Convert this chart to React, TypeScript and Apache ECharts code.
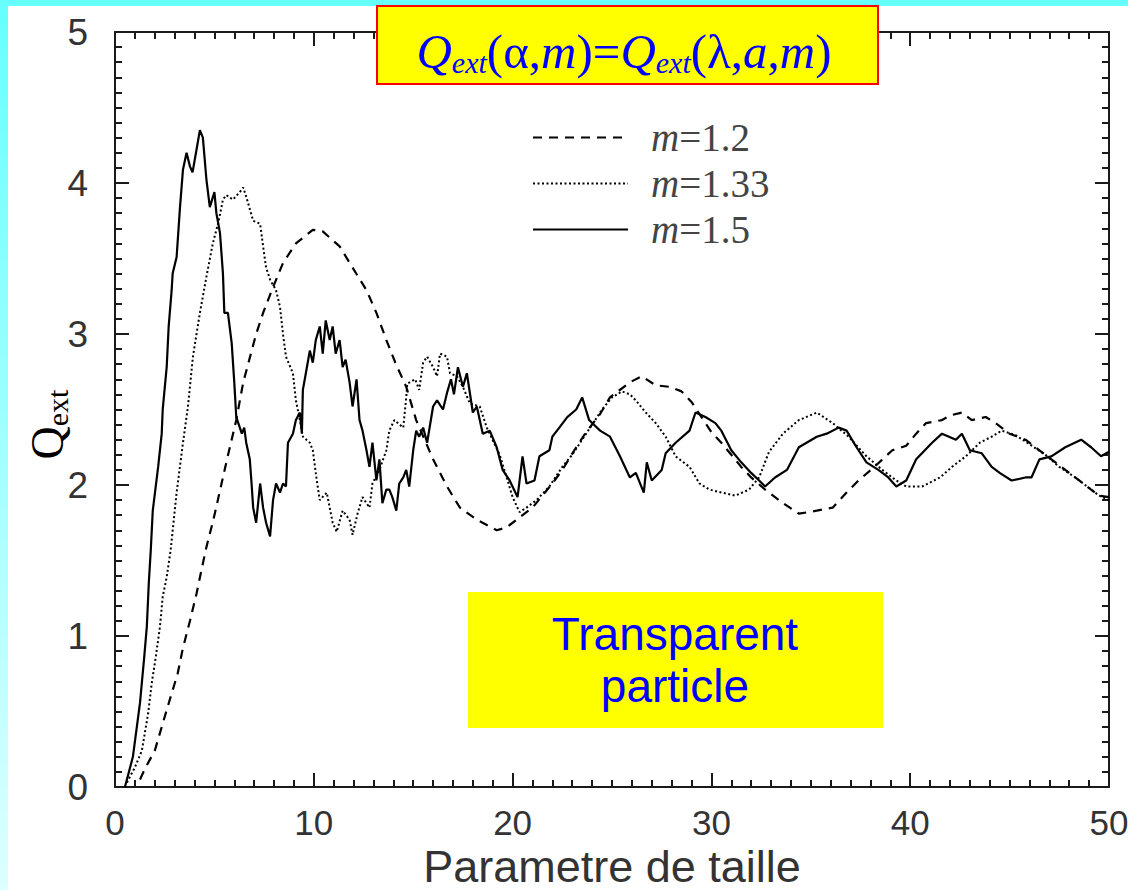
import React, { useEffect, useRef } from "react";
import * as echarts from "echarts";

const seriesNames = ["m=1.2", "m=1.33", "m=1.5"];

const m12: [number, number][] = [
  [1.26, 0.05], [1.5, 0.12], [2.0, 0.24], [2.4, 0.42], [2.76, 0.58], [3.15, 0.75], [3.4, 0.91],
  [3.77, 1.1], [4.1, 1.28], [4.37, 1.45], [4.6, 1.59], [4.95, 1.77], [5.6, 2.15], [6.1, 2.43],
  [6.45, 2.68], [7.1, 3.0], [7.45, 3.14], [7.95, 3.31], [8.45, 3.47], [9.1, 3.6], [9.95, 3.69],
  [10.45, 3.68], [11.3, 3.58], [11.95, 3.44], [12.65, 3.29], [13.15, 3.14], [13.65, 2.96],
  [14.1, 2.81], [14.65, 2.65], [15.15, 2.43], [16.0, 2.17], [16.7, 1.99], [17.35, 1.85],
  [18.2, 1.77], [19.2, 1.7], [19.7, 1.72], [20.5, 1.8], [21.0, 1.85], [21.5, 1.93], [22.0, 2.01],
  [22.5, 2.1], [23.2, 2.25], [23.7, 2.35], [24.4, 2.47], [24.9, 2.58], [25.3, 2.62], [25.9, 2.68],
  [26.5, 2.72], [27.2, 2.66], [27.9, 2.65], [28.5, 2.62], [29.0, 2.55], [29.5, 2.45], [30.0, 2.35],
  [30.5, 2.28], [31.0, 2.2], [31.5, 2.12], [32.0, 2.05], [32.7, 1.97], [33.2, 1.92], [33.6, 1.88],
  [34.4, 1.81], [35.3, 1.83], [36.1, 1.85], [36.8, 1.95], [37.4, 2.03], [38.2, 2.12], [39.1, 2.23],
  [39.8, 2.26], [40.3, 2.34], [40.8, 2.41], [41.6, 2.43], [42.0, 2.46], [42.6, 2.48], [43.1, 2.43],
  [43.8, 2.45], [44.3, 2.41], [45.0, 2.34], [45.8, 2.3], [46.5, 2.23], [47.1, 2.17], [47.8, 2.1],
  [48.5, 2.03], [49.1, 1.97], [49.5, 1.93], [50, 1.92],
];

const m133: [number, number][] = [
  [0.6, 0.03], [1.0, 0.13], [1.35, 0.24], [1.67, 0.49], [1.85, 0.69], [2.05, 0.86], [2.26, 1.06],
  [2.4, 1.26], [2.6, 1.39], [2.8, 1.57], [3.1, 1.95], [3.42, 2.28], [3.67, 2.52], [3.92, 2.85],
  [4.27, 3.14], [4.6, 3.38], [4.92, 3.6], [5.2, 3.74], [5.43, 3.89], [5.6, 3.92], [5.93, 3.89],
  [6.28, 3.94], [6.45, 3.97], [6.6, 3.91], [6.95, 3.75], [7.3, 3.73], [7.45, 3.58], [7.6, 3.44],
  [7.8, 3.36], [8.1, 3.29], [8.3, 3.18], [8.45, 3.0], [8.6, 2.85], [8.95, 2.74], [9.1, 2.56],
  [9.3, 2.43], [9.45, 2.32], [9.8, 2.28], [9.95, 2.23], [10.15, 2.03], [10.3, 1.9], [10.65, 1.95],
  [10.95, 1.75], [11.15, 1.69], [11.45, 1.83], [11.8, 1.77], [11.95, 1.67], [12.2, 1.81],
  [12.45, 1.92], [12.8, 1.85], [12.95, 2.01], [13.3, 2.1], [13.65, 2.23], [13.8, 2.36], [14.05, 2.43],
  [14.5, 2.38], [14.65, 2.58], [14.7, 2.67], [15.1, 2.7], [15.3, 2.63], [15.5, 2.81], [15.7, 2.85],
  [16.0, 2.78], [16.2, 2.72], [16.35, 2.87], [16.7, 2.85], [16.85, 2.74], [17.2, 2.72], [17.5, 2.65],
  [17.85, 2.54], [18.35, 2.52], [18.7, 2.38], [19.35, 2.2], [19.7, 2.05], [20.0, 1.92], [20.35, 1.82],
  [20.7, 1.85], [21.2, 1.9], [21.85, 1.99], [22.5, 2.12], [23.0, 2.2], [23.5, 2.3], [24.0, 2.4],
  [24.5, 2.5], [25.0, 2.58], [25.5, 2.62], [25.9, 2.6], [26.2, 2.56], [26.7, 2.48], [27.2, 2.41],
  [27.7, 2.32], [28.2, 2.19], [28.9, 2.12], [29.4, 2.01], [29.9, 1.97], [30.5, 1.95], [31.2, 1.93],
  [31.9, 1.97], [32.4, 2.05], [32.9, 2.22], [33.6, 2.34], [34.4, 2.43], [35.3, 2.48], [36.1, 2.41],
  [36.9, 2.32], [37.8, 2.19], [38.6, 2.1], [39.3, 2.03], [39.8, 1.99], [40.6, 1.99], [41.5, 2.05],
  [42.1, 2.12], [42.8, 2.19], [43.5, 2.28], [44.1, 2.32], [44.6, 2.36], [45.3, 2.33], [46.0, 2.27],
  [46.8, 2.2], [47.5, 2.12], [48.3, 2.05], [49.0, 1.98], [49.5, 1.93], [50, 1.9],
];

const m15: [number, number][] = [
  [0.5, 0], [0.9, 0.2], [1.1, 0.4], [1.26, 0.56], [1.35, 0.69], [1.47, 0.86], [1.6, 1.06], [1.7, 1.35],
  [1.8, 1.57], [1.9, 1.83], [2.17, 2.12], [2.35, 2.34], [2.4, 2.5], [2.6, 2.78], [2.7, 3.05],
  [2.85, 3.29], [2.9, 3.4], [3.1, 3.51], [3.27, 3.84], [3.42, 4.09], [3.6, 4.2], [3.77, 4.11],
  [3.9, 4.07], [4.1, 4.22], [4.27, 4.35], [4.42, 4.3], [4.6, 4.02], [4.77, 3.84], [5.0, 3.94],
  [5.1, 3.8], [5.28, 3.67], [5.43, 3.4], [5.5, 3.14], [5.68, 3.14], [5.87, 2.94], [6.0, 2.68],
  [6.1, 2.45], [6.38, 2.34], [6.5, 2.38], [6.6, 2.28], [6.78, 2.17], [6.87, 2.01], [6.95, 1.85],
  [7.1, 1.75], [7.3, 2.01], [7.45, 1.85], [7.6, 1.75], [7.8, 1.66], [7.95, 1.9], [8.1, 2.01],
  [8.3, 1.95], [8.45, 2.01], [8.6, 1.99], [8.7, 2.28], [8.95, 2.34], [9.1, 2.43], [9.3, 2.48],
  [9.4, 2.34], [9.45, 2.63], [9.6, 2.74], [9.8, 2.89], [9.95, 2.81], [10.1, 2.96], [10.3, 3.05],
  [10.45, 2.87], [10.6, 3.09], [10.8, 2.96], [10.95, 3.05], [11.1, 2.87], [11.3, 2.96], [11.45, 2.78],
  [11.6, 2.83], [11.8, 2.68], [11.95, 2.52], [12.15, 2.7], [12.3, 2.43], [12.45, 2.36], [12.65, 2.23],
  [12.8, 2.12], [12.95, 2.28], [13.15, 2.03], [13.3, 2.17], [13.45, 1.88], [13.65, 1.97], [13.8, 1.97],
  [13.95, 1.92], [14.15, 1.83], [14.3, 2.01], [14.5, 2.05], [14.65, 2.1], [14.8, 1.99], [15.0, 2.23],
  [15.15, 2.36], [15.3, 2.32], [15.5, 2.38], [15.7, 2.28], [16.0, 2.52], [16.2, 2.56], [16.5, 2.5],
  [16.7, 2.61], [16.9, 2.7], [17.05, 2.6], [17.25, 2.78], [17.5, 2.65], [17.7, 2.74], [18.0, 2.48],
  [18.2, 2.52], [18.5, 2.34], [18.85, 2.36], [19.2, 2.25], [19.5, 2.1], [19.85, 2.03], [20.25, 1.92],
  [20.5, 2.19], [20.7, 2.01], [21.1, 2.03], [21.35, 2.19], [21.85, 2.23], [22.0, 2.32], [22.35, 2.38],
  [22.75, 2.45], [23.2, 2.5], [23.5, 2.58], [23.85, 2.43], [24.4, 2.36], [24.9, 2.32], [25.4, 2.19],
  [25.9, 2.05], [26.2, 2.08], [26.6, 1.95], [26.75, 2.15], [27.0, 2.03], [27.5, 2.1], [27.7, 2.21],
  [28.2, 2.28], [28.9, 2.36], [29.2, 2.48], [29.7, 2.45], [30.2, 2.41], [30.5, 2.36], [31.0, 2.23],
  [31.5, 2.15], [32.0, 2.08], [32.4, 2.03], [32.7, 1.99], [33.2, 2.05], [33.8, 2.1], [34.4, 2.25],
  [35.3, 2.32], [35.8, 2.34], [36.4, 2.38], [36.8, 2.36], [37.3, 2.25], [37.8, 2.15], [38.4, 2.1],
  [38.9, 2.05], [39.3, 1.99], [39.8, 2.03], [40.3, 2.17], [41.1, 2.28], [41.6, 2.34], [42.3, 2.3],
  [42.6, 2.34], [43.0, 2.23], [43.6, 2.21], [44.1, 2.12], [44.5, 2.08], [45.1, 2.03], [45.8, 2.05],
  [46.1, 2.05], [46.5, 2.17], [47.1, 2.19], [47.8, 2.25], [48.6, 2.3], [49.1, 2.25], [49.6, 2.19],
  [50, 2.22],
];

const xRange = [0, 50];
const yRange = [0, 5];
const xAxisTitle = "Parametre de taille";
const noteLines = ["Transparent", "particle"];

const SERIF = '"Times New Roman", "Liberation Serif", serif';
const SANS = 'Arial, "Liberation Sans", sans-serif';
const AXIS_COLOR = "#1a1a1a";
const LABEL_COLOR = "#333";

export default function App() {
  const ref = useRef<HTMLDivElement>(null);

  useEffect(() => {
    if (!ref.current) return;
    const chart = echarts.init(ref.current, undefined, { renderer: "svg" });

    const tickCommon = {
      axisLine: { show: true, onZero: false, lineStyle: { color: AXIS_COLOR, width: 2 } },
      axisTick: { show: true, inside: true, length: 14, lineStyle: { color: AXIS_COLOR, width: 2 } },
      minorTick: { show: true, splitNumber: 10, length: 7, lineStyle: { color: AXIS_COLOR, width: 2 } },
      splitLine: { show: false },
      minorSplitLine: { show: false },
    };

    const lineSeries = [m12, m133, m15].map((d, i) => ({
      name: seriesNames[i],
      type: "line",
      data: d,
      symbol: "none",
      showSymbol: false,
      color: "#000",
      itemStyle: { color: "#000" },
      lineStyle:
        i === 0
          ? { color: "#000", width: 2.2, type: [9, 7] }
          : i === 1
          ? { color: "#000", width: 2, type: [2, 2.5] }
          : { color: "#000", width: 2.2, type: "solid" },
      z: 3,
    }));

    chart.setOption({
      animation: false,
      backgroundColor: "#ffffff",
      grid: { left: 115, right: 19, top: 32, bottom: 103, containLabel: false, outerBoundsMode: "none" },
      xAxis: [
        {
          type: "value",
          min: xRange[0],
          max: xRange[1],
          interval: 10,
          position: "bottom",
          ...tickCommon,
          axisLabel: { fontSize: 35, color: LABEL_COLOR, fontFamily: SANS, margin: 18 },
          name: xAxisTitle,
          nameLocation: "middle",
          nameGap: 56,
          nameMoveOverlap: false,
          nameTextStyle: { fontSize: 45, lineHeight: 46, color: LABEL_COLOR, fontFamily: SANS },
        },
        {
          type: "value",
          min: xRange[0],
          max: xRange[1],
          interval: 10,
          position: "top",
          ...tickCommon,
          axisLabel: { show: false },
        },
      ],
      yAxis: [
        {
          type: "value",
          min: yRange[0],
          max: yRange[1],
          interval: 1,
          position: "left",
          ...tickCommon,
          axisLabel: { fontSize: 37, color: LABEL_COLOR, fontFamily: SANS, margin: 27 },
          name: "{q|Q}{s|ext}",
          nameLocation: "middle",
          nameRotate: 90,
          nameGap: 43,
          nameMoveOverlap: false,
          nameTextStyle: {
            rich: {
              q: { fontFamily: SERIF, fontSize: 46, color: "#000" },
              s: { fontFamily: SERIF, fontSize: 30, color: "#000", padding: [20, 30, 0, 0] },
            },
          },
        },
        {
          type: "value",
          min: yRange[0],
          max: yRange[1],
          interval: 1,
          position: "right",
          ...tickCommon,
          axisLabel: { show: false },
        },
      ],
      legend: {
        data: seriesNames,
        orient: "vertical",
        left: 527,
        top: 113,
        padding: 5,
        itemWidth: 95,
        itemHeight: 20,
        itemGap: 7,
        selectedMode: false,
        itemStyle: { opacity: 0 },
        formatter: (n: string) => `{i|m}{n|${n.slice(1)}}`,
        textStyle: {
          rich: {
            i: { fontFamily: SERIF, fontStyle: "italic", fontSize: 39, color: "#444", padding: [0, 0, 0, 18], lineHeight: 41 },
            n: { fontFamily: SERIF, fontSize: 39, color: "#444", lineHeight: 41 },
          },
        },
      },
      graphic: [
        { type: "rect", z: -10, shape: { x: 0, y: 0, width: 1128, height: 6 }, style: { fill: "#66ffff" } },
        {
          type: "rect",
          z: -10,
          shape: { x: 0, y: 0, width: 8, height: 890 },
          style: {
            fill: new echarts.graphic.LinearGradient(0, 0, 0, 1, [
              { offset: 0, color: "#66ffff" },
              { offset: 1, color: "#dcffff" },
            ]),
          },
        },
        {
          type: "rect",
          z: 50,
          shape: { x: 377, y: 6, width: 501, height: 78 },
          style: { fill: "#ffff00", stroke: "#ff0000", lineWidth: 2 },
        },
        {
          type: "text",
          z: 51,
          style: {
            x: 624,
            y: 51,
            align: "center",
            verticalAlign: "middle",
            text: "{i|Q}{s|ext}{n|(α,}{i|m}{n|)=}{i|Q}{s|ext}{n|(λ,}{i|a}{n|,}{i|m}{n|)}",
            rich: {
              i: { fontFamily: SERIF, fontStyle: "italic", fontSize: 49, fill: "#0000ff", color: "#0000ff" },
              n: { fontFamily: SERIF, fontSize: 49, fill: "#0000ff", color: "#0000ff" },
              s: { fontFamily: SERIF, fontStyle: "italic", fontSize: 30, fill: "#0000ff", color: "#0000ff", padding: [22, 0, 0, 0] },
            },
          },
        },
        {
          type: "rect",
          z: 50,
          shape: { x: 468, y: 592, width: 415, height: 136 },
          style: { fill: "#ffff00" },
        },
        {
          type: "text",
          z: 51,
          style: {
            x: 675,
            y: 660,
            align: "center",
            verticalAlign: "middle",
            text: noteLines.join("\n"),
            fontFamily: SANS,
            fontSize: 46,
            lineHeight: 52,
            fill: "#0000ff",
          },
        },
      ],
      series: lineSeries,
    });

    return () => chart.dispose();
  }, []);

  return (
    <div
      ref={ref}
      style={{ position: "fixed", left: 0, top: 0, width: 1128, height: 890, background: "#fff" }}
    />
  );
}
